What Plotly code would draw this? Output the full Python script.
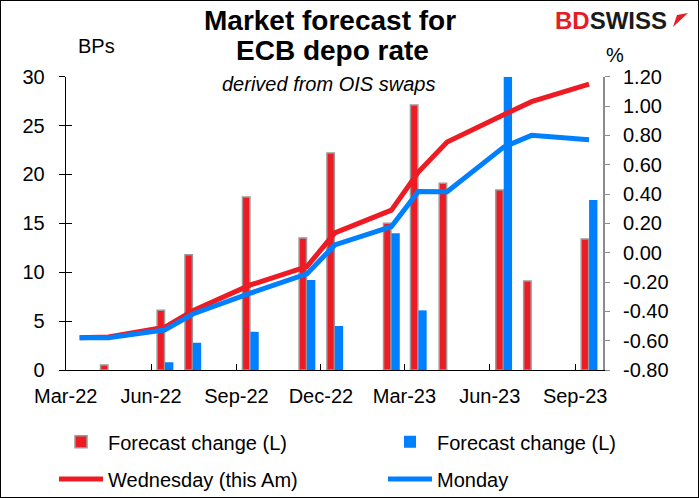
import plotly.graph_objects as go

# ECB meeting slots (mid-month positions)
meetings = ["2022-04-16", "2022-06-16", "2022-07-16", "2022-09-16", "2022-11-16",
            "2022-12-16", "2023-02-15", "2023-03-16", "2023-04-16", "2023-06-16",
            "2023-07-16", "2023-09-16"]
line_dates = ["2022-03-16"] + meetings

# forecast change per meeting, BPs (left axis)
chg_wed = [0.5, 6.1, 11.8, 17.7, 13.5, 22.2, 15.0, 27.1, 19.1, 18.4, 9.1, 13.4]
chg_mon = [0.0, 0.8, 2.8, 3.9, 9.2, 4.5, 14.0, 6.1, 0.0, 30.0, 0.0, 17.4]

# implied depo rate, % (right axis)
rate_wed = [-0.58, -0.575, -0.508, -0.395, -0.22, -0.095, 0.135, 0.29, 0.55, 0.755, 0.94, 1.03, 1.15]
rate_mon = [-0.58, -0.58, -0.527, -0.418, -0.276, -0.145, 0.053, 0.178, 0.417, 0.415, 0.72, 0.80, 0.77]

left_ticks = [0, 5, 10, 15, 20, 25, 30]
right_ticks = [-0.8, -0.6, -0.4, -0.2, 0.0, 0.2, 0.4, 0.6, 0.8, 1.0, 1.2]
right_labels = [f"{v:.2f}" for v in right_ticks]

RED = "#ED1C24"
BLUE = "#0080FF"
FONT = "Arial, Liberation Sans, sans-serif"
DAY = 86400000
W, H = 699, 498

fig = go.Figure()

fig.add_trace(go.Bar(x=meetings, y=chg_wed, name="Forecast change (L)",
                     marker=dict(color=RED, line=dict(color="#999999", width=1.5)),
                     width=8 * DAY, offset=-8.5 * DAY, yaxis="y", legend="legend"))
fig.add_trace(go.Bar(x=meetings, y=chg_mon, name="Forecast change (L)",
                     marker=dict(color=BLUE, line=dict(width=0)),
                     width=9 * DAY, offset=0, yaxis="y", legend="legend2"))
fig.add_trace(go.Scatter(x=line_dates, y=rate_wed, name="Wednesday (this Am)", mode="lines",
                         line=dict(color=RED, width=5), yaxis="y2", legend="legend3"))
fig.add_trace(go.Scatter(x=line_dates, y=rate_mon, name="Monday", mode="lines",
                         line=dict(color=BLUE, width=5), yaxis="y2", legend="legend4"))
# invisible trace so the crossing-tick overlay axis is drawn
fig.add_trace(go.Scatter(x=[meetings[0]], y=[0], yaxis="y3", mode="markers",
                         marker=dict(opacity=0), showlegend=False, hoverinfo="skip"))

x0, x1 = 65.7 / W, 603 / W
y0, y1 = (H - 370) / H, (H - 76.7) / H


def leg(px, py):
    return dict(x=px / W, xanchor="left", y=1 - py / H, yanchor="middle",
                itemwidth=44, font=dict(size=20), bgcolor="rgba(0,0,0,0)",
                borderwidth=0, tracegroupgap=0)


fig.update_layout(
    template="none",
    width=W, height=H,
    margin=dict(l=0, r=0, t=0, b=0, pad=0, autoexpand=False),
    paper_bgcolor="white", plot_bgcolor="white",
    font=dict(family=FONT, size=20, color="black"),
    barmode="overlay",
    xaxis=dict(domain=[x0, x1], type="date", range=["2022-03-01", "2023-10-01"],
               tick0="2022-03-01", dtick="M3", tickformat="%b-%y", automargin=False,
               ticks="inside", ticklen=6, tickcolor="black",
               showline=True, linecolor="black", linewidth=1,
               showgrid=False, zeroline=False, ticklabelstandoff=8),
    yaxis=dict(domain=[y0, y1], range=[0, 30], tickvals=left_ticks, automargin=False,
               ticks="outside", ticklen=6, tickcolor="black",
               showline=True, linecolor="black", linewidth=1,
               showgrid=False, zeroline=False, ticklabelstandoff=10),
    yaxis3=dict(domain=[y0, y1], range=[0, 30], tickvals=left_ticks, overlaying="y",
                side="left", anchor="x", ticks="inside", ticklen=6, tickcolor="black",
                automargin=False, showticklabels=False, showline=False,
                showgrid=False, zeroline=False),
    yaxis2=dict(domain=[y0, y1], range=[-0.8, 1.2], tickvals=right_ticks, ticktext=right_labels,
                overlaying="y", side="right", anchor="x", automargin=False,
                ticks="outside", ticklen=5, tickcolor="#8C8C8C",
                showline=True, linecolor="#8C8C8C", linewidth=2,
                showgrid=False, zeroline=False, ticklabelstandoff=9),
    legend=leg(54, 441.7),
    legend2=leg(383, 441.7),
    legend3=leg(54, 479),
    legend4=leg(383, 479),
    shapes=[dict(type="rect", xref="paper", yref="paper", x0=0, x1=1, y0=0, y1=1,
                 line=dict(color="black", width=2))],
)

fig.add_annotation(text="<b>Market forecast for</b>", x=330 / W, y=1 - 21 / H, xref="paper", yref="paper",
                   showarrow=False, font=dict(size=28), xanchor="center", yanchor="middle")
fig.add_annotation(text="<b>ECB depo rate</b>", x=332 / W, y=1 - 51 / H, xref="paper", yref="paper",
                   showarrow=False, font=dict(size=28), xanchor="center", yanchor="middle")
fig.add_annotation(text="<i>derived from OIS swaps</i>", x=328 / W, y=1 - 84 / H, xref="paper", yref="paper",
                   showarrow=False, font=dict(size=20), xanchor="center", yanchor="middle")
fig.add_annotation(text="BPs", x=96 / W, y=1 - 46 / H, xref="paper", yref="paper",
                   showarrow=False, font=dict(size=20), xanchor="center", yanchor="middle")
fig.add_annotation(text="%", x=615 / W, y=1 - 55 / H, xref="paper", yref="paper",
                   showarrow=False, font=dict(size=20), xanchor="center", yanchor="middle")
fig.add_annotation(text="<b><span style='color:#E31E24'>BD</span>SWISS</b>", x=553 / W, y=1 - 20 / H,
                   xref="paper", yref="paper", showarrow=False, xanchor="left", yanchor="middle",
                   font=dict(size=24, color="#1A1A1A"))
# small red arrow mark of the logo
fig.add_shape(type="path", xref="paper", yref="paper",
              path=f"M {673/W},{1-27/H} L {688/W},{1-13/H} L {677/W},{1-15/H} Z",
              fillcolor="#E31E24", line=dict(width=0))

# page body has an 8px default margin; drop it so the figure sits at 0,0
fig.write_html("out.html", config={"displayModeBar": False},
               post_script="document.body.style.margin='0px';")
